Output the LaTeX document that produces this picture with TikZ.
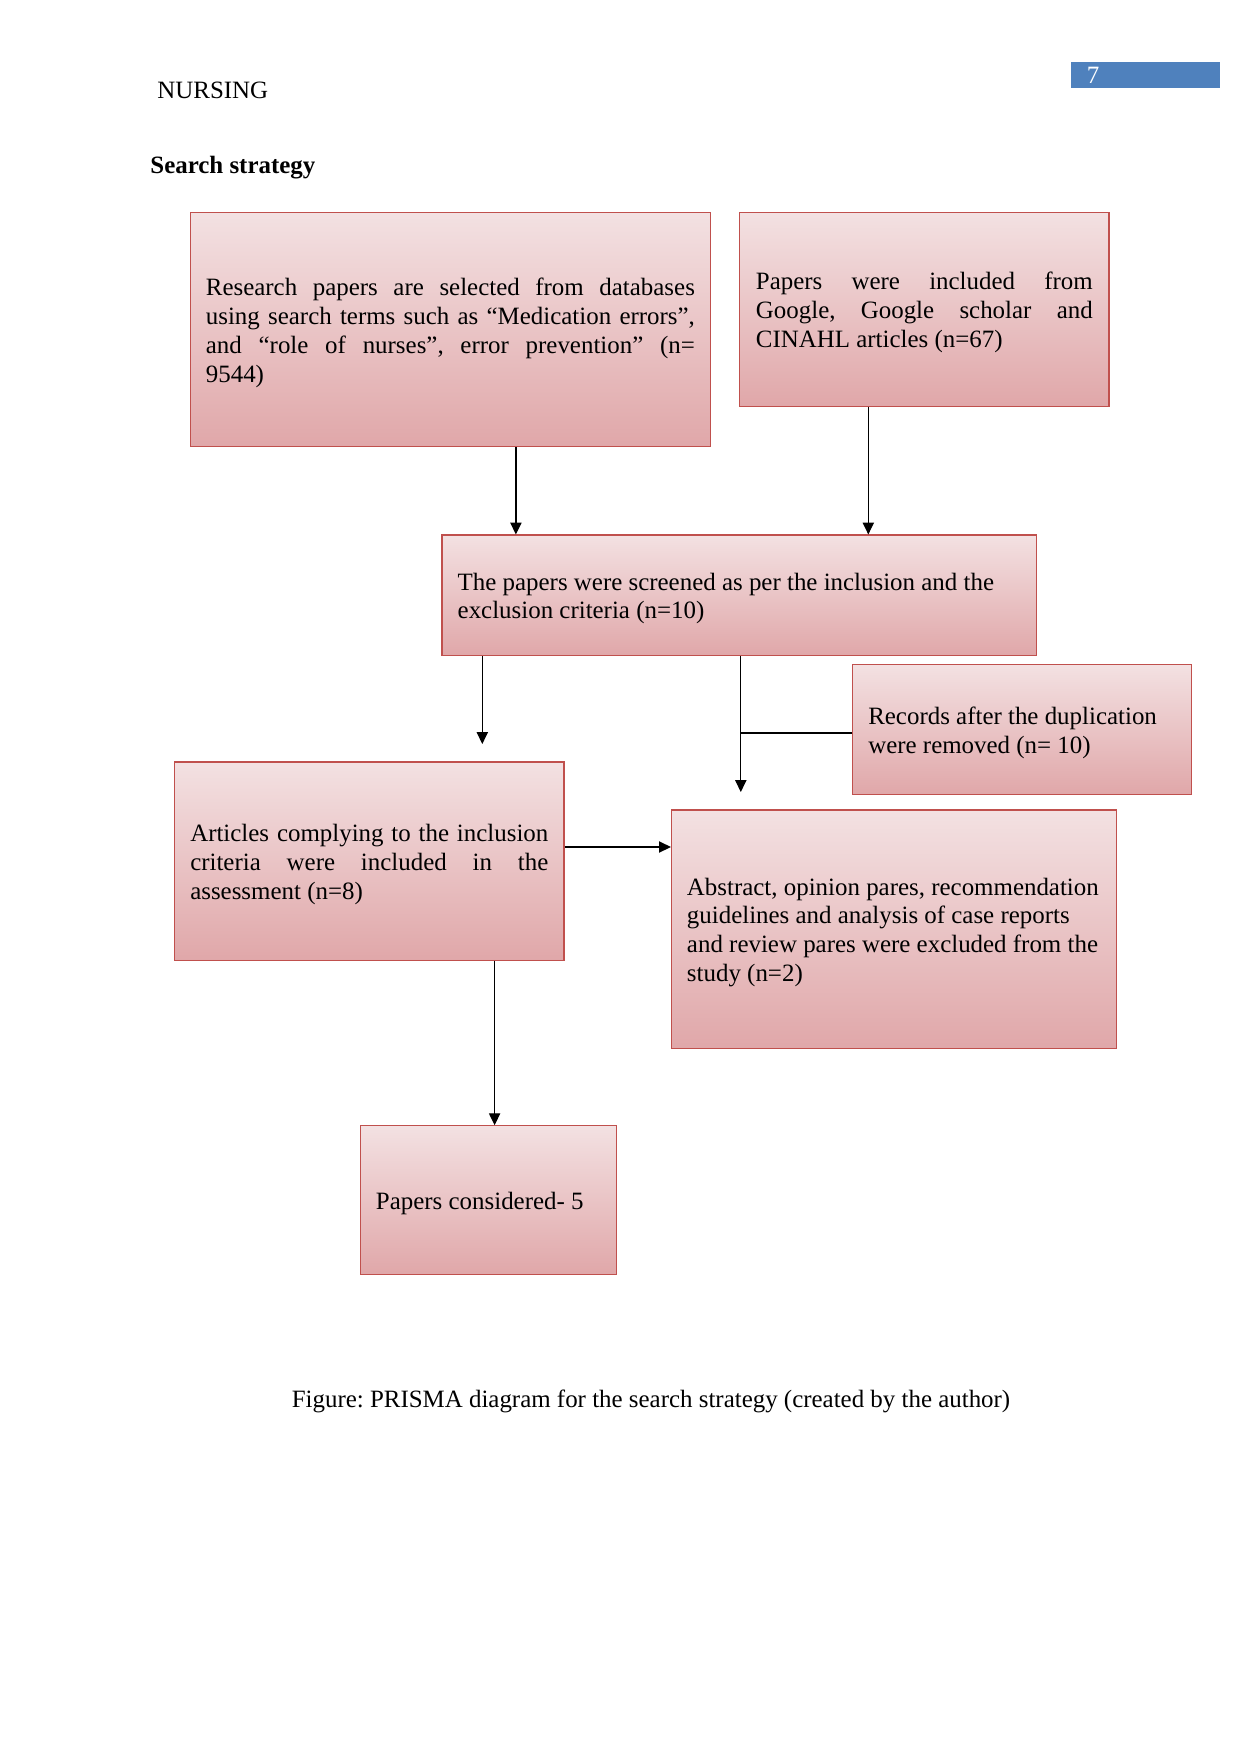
\documentclass[tikz,border=0pt]{standalone}
\usepackage{fontspec}
\setmainfont{Liberation Serif}
\frenchspacing
\usetikzlibrary{arrows.meta}
\definecolor{boxtop}{RGB}{243,225,226}
\definecolor{boxbot}{RGB}{224,167,169}
\definecolor{boxline}{RGB}{192,80,77}
\definecolor{pagebl}{RGB}{79,129,189}
\tikzset{
  flowbox/.style={draw=boxline, line width=0.5pt, top color=boxtop, bottom color=boxbot,
    inner sep=0pt, font=\fontsize{12}{13.9}\selectfont, align=justify,
    execute at begin node={\rule{0pt}{11.4pt}}},
  arr/.style={line width=0.6pt, -{Triangle[length=2mm,width=1.9mm]}},
  plain/.style={line width=0.6pt}
}
\begin{document}
\begin{tikzpicture}[x=0.16922mm, y=-0.16922mm]
\useasboundingbox (0,0) rectangle (1241,1754);
% header
\node[fill=pagebl, minimum width=25.21mm, minimum height=4.55mm, inner sep=0pt] (pg) at (1145.5,75) {};
\node[text=white, font=\fontsize{12}{14}\selectfont] (pgn) at (1093,75) {7};
\node[anchor=west, font=\fontsize{12}{14}\selectfont, inner sep=0pt] (hd) at (157,90) {NURSING};
\node[anchor=west, font=\bfseries\fontsize{12}{14}\selectfont, inner sep=0pt] (ss) at (150,168) {Search strategy};
% boxes
\node[flowbox, minimum width=88.06mm, minimum height=39.58mm, text width=82.75mm] (b1) at (450.4,329.55)
 {Research papers are selected from databases\linebreak using search terms such as “Medication errors”,\linebreak and “role of nurses”, error prevention” (n=\linebreak 9544)};
\node[flowbox, minimum width=62.49mm, minimum height=32.76mm, text width=57.0mm] (b2) at (924.35,309.4)
 {Papers were included from\linebreak Google, Google scholar and\linebreak CINAHL articles (n=67)};
\node[flowbox, minimum width=100.55mm, minimum height=20.43mm, text width=95.24mm] (b3) at (739.1,595.35)
 {The papers were screened as per the inclusion and the\\ exclusion criteria (n=10)};
\node[flowbox, minimum width=57.37mm, minimum height=21.96mm, text width=52.09mm] (b4) at (1022.2,729.6)
 {Records after the duplication\\ were removed (n= 10)};
\node[flowbox, minimum width=65.89mm, minimum height=33.51mm, text width=60.59mm] (b5) at (369.3,861)
 {Articles complying to the inclusion\linebreak criteria were included in the\linebreak assessment (n=8)};
\node[flowbox, minimum width=75.37mm, minimum height=40.36mm, text width=70.1mm] (b6) at (894.1,929.25)
 {Abstract, opinion pares, recommendation\\ guidelines and analysis of case reports\\ and review pares were excluded from the\\ study (n=2)};
\node[flowbox, minimum width=43.37mm, minimum height=25.18mm, text width=38.07mm] (b7) at (488.45,1200.1)
 {Papers considered- 5};
% coordinates
\coordinate (x1) at (515.9,0);
\coordinate (x2) at (868.3,0);
\coordinate (e3) at (482.3,744);
\coordinate (e4) at (740.8,792);
\coordinate (y5) at (0,847);
\coordinate (x6) at (494.6,0);
% connectors
\draw[arr] (b1.south -| x1) -- (b3.north -| x1);
\draw[arr] (b2.south -| x2) -- (b3.north -| x2);
\draw[arr] (b3.south -| e3) -- (e3);
\draw[arr] (b3.south -| e4) -- (e4);
\draw[plain] (b4.west |- 0,733) -- (e4 |- 0,733);
\draw[arr] (b5.east |- y5) -- (b6.west |- y5);
\draw[arr] (b5.south -| x6) -- (b7.north -| x6);
% caption
\node[font=\fontsize{12}{14}\selectfont] (cap) at (651,1401) {Figure: PRISMA diagram for the search strategy (created by the author)};
\end{tikzpicture}
\end{document}
